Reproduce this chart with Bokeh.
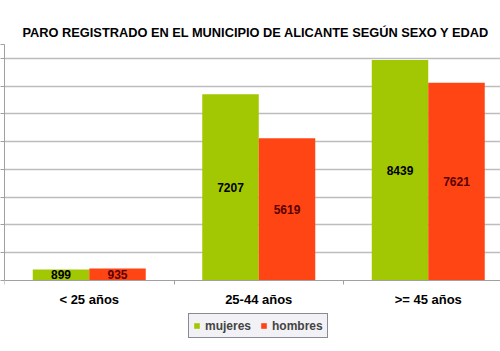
from bokeh.plotting import figure
from bokeh.models import Range1d, FixedTicker, Legend, LegendItem
from bokeh.embed import file_html
from bokeh.resources import INLINE
from bokeh.core.properties import value

# ---- data ----
categories = ["< 25 años", "25-44 años", ">= 45 años"]
mujeres = [899, 7207, 8439]
hombres = [935, 5619, 7621]
series_names = ["mujeres", "hombres"]
title_text = "PARO REGISTRADO EN EL MUNICIPIO DE ALICANTE SEGÚN SEXO Y EDAD"

# ---- styling / geometry ----
Y_MIN, Y_MAX, Y_STEP = 500, 9000, 1000
BAR_W = 1 / 3
GREEN = "#a2c803"
RED = "#ff4514"
FONT = "Liberation Sans"
W, H = 500, 351
TOP, AXIS_Y, LEFT = 44, 280, 4          # frame top, x-axis line, frame left (px)
CAT_PX = 169.5                           # width of one category (px)

px_per_unit = (AXIS_Y - TOP) / (Y_MAX - Y_MIN)
y_start = Y_MIN - (H - AXIS_Y) / px_per_unit
x_end = (W - LEFT) / CAT_PX

idx = list(range(len(categories)))
x_m = [i + 0.5 - BAR_W / 2 for i in idx]
x_h = [i + 0.5 + BAR_W / 2 for i in idx]

p = figure(width=W, height=H, output_backend="svg", toolbar_location=None,
           x_range=Range1d(0, x_end), y_range=Range1d(y_start, Y_MAX),
           min_border_left=LEFT, min_border_right=0, min_border_top=TOP,
           min_border_bottom=0)
p.outline_line_color = None
p.background_fill_color = "white"
p.border_fill_color = "white"

p.title.text = title_text
p.title.align = "left"
p.title.offset = 18
p.title.text_font = FONT
p.title.text_font_style = "bold"
p.title.text_font_size = "12.8px"
p.title.text_color = "black"
p.title.standoff = 10

# x axis, drawn at the value axis minimum
p.xaxis.fixed_location = Y_MIN
p.xaxis.ticker = FixedTicker(ticks=[i + 0.5 for i in idx],
                             minor_ticks=list(range(len(categories) + 1)))
p.xaxis.major_label_overrides = {i + 0.5: c for i, c in zip(idx, categories)}
p.xaxis.major_label_text_font = FONT
p.xaxis.major_label_text_font_style = "bold"
p.xaxis.major_label_text_font_size = "13px"
p.xaxis.major_label_text_color = "black"
p.xaxis.major_label_standoff = 7
p.xaxis.major_tick_out = 0
p.xaxis.major_tick_in = 0
p.xaxis.minor_tick_out = 4
p.xaxis.minor_tick_in = 0
p.xaxis.axis_line_color = "#a0a0a0"
p.xaxis.minor_tick_line_color = "#a0a0a0"
p.xgrid.visible = False

# y axis (its labels are cropped out in the reference)
yticks = list(range(Y_MIN, Y_MAX + 1, Y_STEP)) + [Y_MAX]
p.yaxis.ticker = FixedTicker(ticks=yticks, minor_ticks=[])
p.yaxis.bounds = (Y_MIN, Y_MAX)
p.yaxis.major_label_overrides = {t: "" for t in yticks}
p.yaxis.major_label_text_color = None
p.yaxis.major_label_standoff = 0
p.yaxis.major_tick_out = 4
p.yaxis.major_tick_in = 0
p.yaxis.axis_line_color = "#a0a0a0"
p.yaxis.major_tick_line_color = "#a0a0a0"
p.ygrid.ticker = FixedTicker(ticks=yticks[1:])
p.ygrid.grid_line_color = "#bdbdbd"
p.ygrid.grid_line_width = 1.5

rm = p.vbar(x=x_m, top=mujeres, bottom=Y_MIN, width=BAR_W, fill_color=GREEN, line_color=None)
rh = p.vbar(x=x_h, top=hombres, bottom=Y_MIN, width=BAR_W, fill_color=RED, line_color=None)

p.text(x=x_m, y=[(Y_MIN + v) / 2 for v in mujeres], text=[str(v) for v in mujeres],
       text_align="center", text_baseline="middle", text_font=value(FONT),
       text_font_style="bold", text_font_size="12px", text_color="black")
p.text(x=x_h, y=[(Y_MIN + v) / 2 for v in hombres], text=[str(v) for v in hombres],
       text_align="center", text_baseline="middle", text_font=value(FONT),
       text_font_style="bold", text_font_size="12px", text_color="#5a0000")

legend = Legend(items=[LegendItem(label=series_names[0], renderers=[rm]),
                       LegendItem(label=series_names[1], renderers=[rh])],
                orientation="horizontal", location=(184, 13))
legend.glyph_width = 7
legend.glyph_height = 7
legend.label_text_font = FONT
legend.label_text_font_style = "bold"
legend.label_text_font_size = "12px"
legend.label_standoff = 5
legend.label_height = 15
legend.spacing = 9
legend.padding = 4
legend.margin = 0
legend.border_line_color = "#222233"
legend.border_line_width = 1
legend.background_fill_color = "#f2f2f6"
legend.background_fill_alpha = 1
p.add_layout(legend)

open("out.html", "w").write(file_html(p, INLINE))
